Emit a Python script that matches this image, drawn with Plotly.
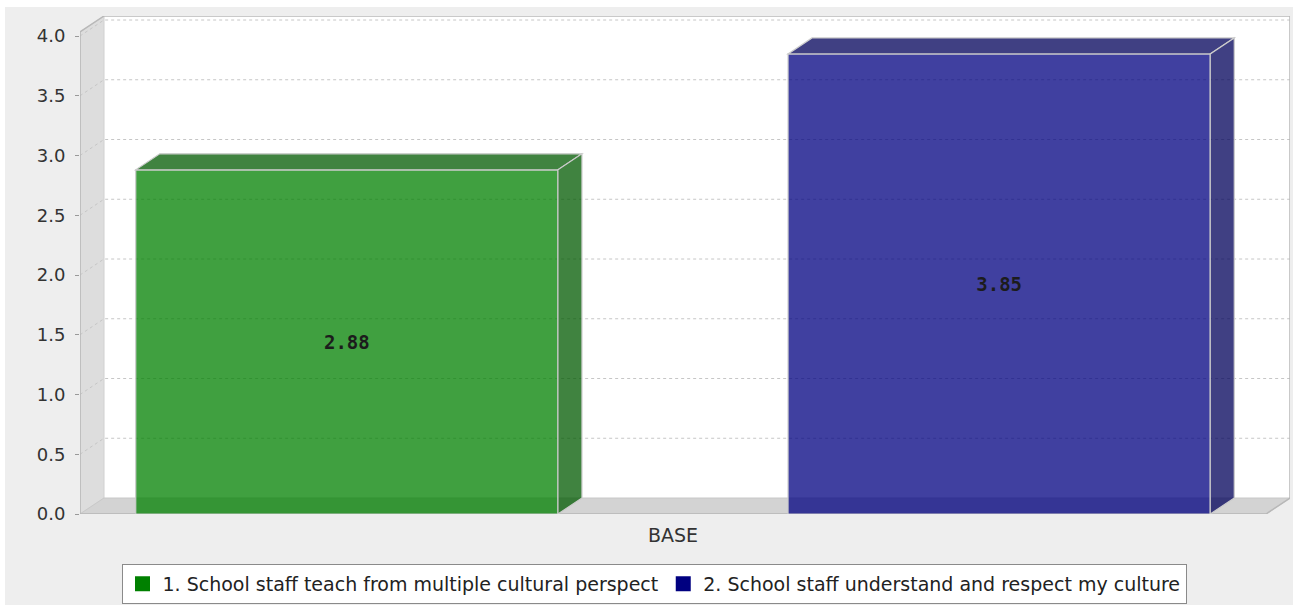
import plotly.graph_objects as go

# ---- data -------------------------------------------------------------
categories = ["BASE"]
series_names = [
    "1. School staff teach from multiple cultural perspect",
    "2. School staff understand and respect my culture",
]
series_values = [2.88, 3.85]
series_rgb = [(0, 128, 0), (0, 0, 128)]
y_tick_values = [0.0, 0.5, 1.0, 1.5, 2.0, 2.5, 3.0, 3.5, 4.0]

# ---- layout geometry (pixels) ----------------------------------------
WIDTH, HEIGHT = 1298, 605
PLOT_LEFT, PLOT_TOP, PLOT_BOTTOM = 80, 16, 514
FRONT_W_PX = 1186          # width of the front edge of the floor
DEPTH_X_PX, DEPTH_Y_PX = 24, 16
PX_PER_UNIT = 119.5
PLOT_W = FRONT_W_PX + DEPTH_X_PX
PLOT_H = PLOT_BOTTOM - PLOT_TOP

# the same geometry in axis units
DX = DEPTH_X_PX / FRONT_W_PX
DY = DEPTH_Y_PX / PX_PER_UNIT
X_MAX = 1 + DX
Y_MAX = PLOT_H / PX_PER_UNIT
WALL_TOP = Y_MAX - DY

# category layout: margins at both ends and a gap between the two series
LOWER_MARGIN = 0.047
ITEM_GAP = 0.194
n_series = len(series_values)
bar_w = (1 - 2 * LOWER_MARGIN - ITEM_GAP * (n_series - 1)) / n_series
bar_left = [LOWER_MARGIN + i * (bar_w + ITEM_GAP) for i in range(n_series)]

ALPHA = 0.75
FONT = "DejaVu Sans"


def rgba(rgb, a):
    return "rgba(%d,%d,%d,%.3f)" % (rgb[0], rgb[1], rgb[2], a)


def darker(rgb, f=0.7):
    return tuple(int(c * f) for c in rgb)


def path(points):
    return "M " + " L ".join("%.6f,%.6f" % p for p in points) + " Z"


def px_to_paper_x(p):
    return (p - PLOT_LEFT) / PLOT_W


def px_to_paper_y(p):
    return (PLOT_BOTTOM - p) / PLOT_H


shapes = []

# chart background panel
shapes.append(dict(
    type="rect", xref="paper", yref="paper", layer="below",
    x0=px_to_paper_x(5), x1=px_to_paper_x(1293),
    y0=px_to_paper_y(HEIGHT + 5), y1=px_to_paper_y(7),
    fillcolor="#EEEEEE", line=dict(width=0),
))

# back wall
shapes.append(dict(
    type="path", xref="x", yref="y", layer="below",
    path=path([(DX, DY), (X_MAX, DY), (X_MAX, Y_MAX), (DX, Y_MAX)]),
    fillcolor="#FFFFFF", line=dict(width=0),
))
# left wall
shapes.append(dict(
    type="path", xref="x", yref="y", layer="below",
    path=path([(0, 0), (0, WALL_TOP), (DX, Y_MAX), (DX, DY)]),
    fillcolor="#DDDDDD", line=dict(color="#D0D0D0", width=1),
))
# floor
shapes.append(dict(
    type="path", xref="x", yref="y", layer="below",
    path=path([(0, 0), (1, 0), (X_MAX, DY), (DX, DY)]),
    fillcolor="#D3D3D3", line=dict(color="#C8C8C8", width=1),
))

# dashed gridlines across the left wall and the back wall
for v in y_tick_values:
    if v == 0:
        continue
    shapes.append(dict(
        type="path", xref="x", yref="y", layer="below",
        path="M 0,%f L %f,%f L %f,%f" % (v, DX, v + DY, X_MAX, v + DY),
        line=dict(color="#C6C6C6", width=1, dash="3px,3px"),
    ))

# outline of the plot box
shapes.append(dict(
    type="path", xref="x", yref="y", layer="below",
    path=path([(0, 0), (0, WALL_TOP), (DX, Y_MAX), (X_MAX, Y_MAX),
               (X_MAX, DY), (1, 0)]),
    fillcolor="rgba(0,0,0,0)", line=dict(color="#B8B8B8", width=1.5),
))

# top and side faces of each bar
for left, val, rgb in zip(bar_left, series_values, series_rgb):
    right = left + bar_w
    face = rgba(darker(rgb), ALPHA)
    edge = dict(color="#CCCCCC", width=1.2)
    shapes.append(dict(
        type="path", xref="x", yref="y", layer="above",
        path=path([(left, val), (right, val), (right + DX, val + DY),
                   (left + DX, val + DY)]),
        fillcolor=face, line=edge,
    ))
    shapes.append(dict(
        type="path", xref="x", yref="y", layer="above",
        path=path([(right, 0), (right, val), (right + DX, val + DY),
                   (right + DX, DY)]),
        fillcolor=face, line=edge,
    ))

fig = go.Figure()

# front faces of the bars with their value labels
for i, (name, val, rgb) in enumerate(zip(series_names, series_values, series_rgb)):
    fig.add_trace(go.Bar(
        x=[bar_left[i] + bar_w / 2],
        y=[val],
        width=[bar_w],
        name=name,
        showlegend=False,
        marker=dict(color=rgba(rgb, ALPHA), line=dict(color="#CCCCCC", width=1.2)),
        text=["%.2f" % val],
        textposition="inside",
        insidetextanchor="middle",
        textangle=0,
        constraintext="none",
        textfont=dict(family="DejaVu Sans Mono", size=19, color="#1C1C1C",
                      weight="bold"),
        hoverinfo="skip",
    ))

# legend entries
for name, rgb in zip(series_names, series_rgb):
    fig.add_trace(go.Scatter(
        x=[None], y=[None], mode="markers", name=name,
        marker=dict(symbol="square", size=15, color=rgba(rgb, 1),
                    line=dict(width=0)),
    ))

fig.update_layout(
    width=WIDTH, height=HEIGHT,
    margin=dict(l=PLOT_LEFT, r=WIDTH - PLOT_LEFT - PLOT_W,
                t=PLOT_TOP, b=HEIGHT - PLOT_BOTTOM, pad=0,
                autoexpand=False),
    paper_bgcolor="#FFFFFF",
    plot_bgcolor="rgba(0,0,0,0)",
    shapes=shapes,
    barmode="overlay",
    showlegend=True,
    legend=dict(
        orientation="h",
        x=px_to_paper_x(654), xanchor="center",
        y=px_to_paper_y(604), yanchor="bottom",
        bgcolor="#FFFFFF", bordercolor="#8A8A8A", borderwidth=1,
        font=dict(family=FONT, size=19, color="#222222"),
        itemclick=False, itemdoubleclick=False,
    ),
    xaxis=dict(
        range=[0, X_MAX],
        tickmode="array", tickvals=[0.5], ticktext=categories,
        ticks="", showgrid=False, zeroline=False, showline=False,
        tickfont=dict(family=FONT, size=19, color="#333333"),
        ticklabelstandoff=8,
        fixedrange=True,
    ),
    yaxis=dict(
        range=[0, Y_MAX],
        tickmode="array", tickvals=y_tick_values,
        ticktext=["%.1f" % v for v in y_tick_values],
        ticks="outside", ticklen=4, tickcolor="#999999", tickwidth=1,
        showgrid=False, zeroline=False, showline=False,
        tickfont=dict(family=FONT, size=18, color="#333333"),
        ticklabelstandoff=6,
        fixedrange=True,
    ),
)

fig.write_html("out.html")
